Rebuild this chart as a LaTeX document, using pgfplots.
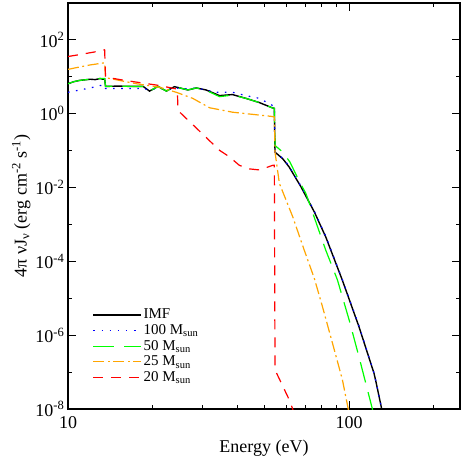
\documentclass[border=0pt]{standalone}
\usepackage{fontspec}
\setmainfont{Liberation Serif}
\usepackage{pgfplots}
\pgfplotsset{compat=1.18}

\definecolor{cgreen}{RGB}{0,255,0}
\definecolor{corange}{RGB}{255,165,0}
\definecolor{cred}{RGB}{255,0,0}
\definecolor{cblue}{RGB}{0,0,255}

\pgfplotsset{
  imfstyle/.style={black, solid, line width=1.4pt},
  bluestyle/.style={cblue, line width=1.2pt, dash pattern=on 1.6pt off 6.5pt},
  greenstyle/.style={cgreen, line width=1.2pt, dash pattern=on 21pt off 10pt},
  orangestyle/.style={corange, line width=1.2pt, dash pattern=on 11pt off 3.5pt on 2pt off 3.5pt},
  redstyle/.style={cred, line width=1.2pt, dash pattern=on 10pt off 8pt},
}

\begin{document}
\begin{tikzpicture}
\begin{axis}[
    scale only axis,
    width=392pt, height=406pt,
    xmode=log, ymode=log,
    xmin=10, xmax=248,
    ymin=1e-8, ymax=1e3,
    xtick={10,100}, xticklabels={10,100},
    minor xtick={20,30,40,50,60,70,80,90,200},
    ytick={1e-8,1e-6,1e-4,1e-2,1,1e2},
    yticklabels={10\textsuperscript{-8},10\textsuperscript{-6},10\textsuperscript{-4},10\textsuperscript{-2},10\textsuperscript{0},10\textsuperscript{2}},
    minor ytick={1e-7,1e-5,1e-3,1e-1,10,1e3},
    major tick length=8pt, minor tick length=4.5pt,
    tick style={black, line width=1pt},
    axis line style={line width=1.2pt},
    tick label style={font=\fontsize{18}{20}\selectfont},
    xticklabel style={yshift=-4pt},
    label style={font=\fontsize{18}{20}\selectfont},
    xlabel style={yshift=-4pt},
    ylabel style={yshift=-2pt},
    xlabel={Energy (eV)},
    ylabel={4π νJ\textsubscript{ν} (erg cm\textsuperscript{-2} s\textsuperscript{-1})},
    legend image code/.code={\draw[#1] plot coordinates {(0pt,0pt) (48pt,0pt)};},
    legend style={at={(0.055,0.255)}, anchor=north west, draw=none, fill=none,
        font=\fontsize{15}{16}\selectfont, row sep=1.2pt, nodes={inner sep=1.5pt},
        /tikz/every even column/.append style={column sep=7pt}},
    legend cell align=left,
]
% IMF
\addplot[imfstyle] coordinates {
 (10,6.5) (10.5,7.4) (11,8.0) (11.5,8.3) (12,8.6) (12.5,8.4) (13,9.0) (13.3,8.6) (13.5,8.8) (13.6,5.5)
 (15,5.6) (17,5.5) (18.5,5.5) (19.5,4.1) (20.9,5.5) (22.4,4.1) (23.9,5.4) (25,5.0) (26.7,4.4)
 (28.6,5.0) (31,4.4) (34.6,3.1) (38.5,3.3) (43,2.6) (48,2.0) (53.2,1.45) (54.2,1.4) (54.5,0.091)
 (58.1,0.060) (61.2,0.036) (67.4,0.0105) (75.2,2.19e-3) (82.6,4.57e-4) (94.6,3.09e-5)
 (108.4,1.70e-6) (122.6,9.3e-8) (124.5,5.6e-8) (130.6,1e-8) (132,6e-9)
};
\addlegendentry{IMF}
% 100 Msun
\addplot[bluestyle] coordinates {
 (10,3.8) (11,4.4) (12,5.0) (13,5.8) (13.5,6.0) (13.6,4.8) (15,4.8) (17,4.8) (18.5,4.9)
 (19.5,4.3) (20.9,5.0) (22.4,4.5) (23.9,5.0) (26.7,4.7) (28.6,5.0) (30,4.6) (34,3.8)
 (38.5,3.8) (43,3.1) (48,2.6) (53.5,1.66) (54.2,1.55) (54.5,0.09)
 (58.1,0.062) (61.2,0.038) (67.4,0.011) (75.2,2.3e-3) (82.6,4.8e-4) (94.6,3.2e-5)
 (108.4,1.8e-6) (122.6,9.5e-8) (124.5,5.7e-8) (130.6,1e-8) (132,6e-9)
};
\addlegendentry{100 M\textsubscript{sun}}
% 50 Msun
\addplot[greenstyle] coordinates {
 (10,6.5) (10.5,7.4) (11,8.0) (11.5,8.3) (12,8.6) (12.5,8.4) (13,9.0) (13.5,9.0) (13.6,5.5)
 (15,5.6) (17,5.5) (18.5,5.5) (19.5,4.1) (20.9,5.5) (22.4,4.1) (23.9,5.4) (25,5.0) (26.7,4.4)
 (28.6,5.0) (31,4.3) (34.6,2.9) (38.5,3.2) (43,2.6) (48,2.0) (53.2,1.45) (54.2,1.4) (54.5,0.138)
 (58.1,0.091) (61.6,0.049) (66.2,0.0158) (70.2,6.9e-3) (82.6,2.0e-4) (90.8,3.2e-5)
 (100,2.6e-6) (108.4,2.6e-7) (121,1e-8) (122,7e-9)
};
\addlegendentry{50 M\textsubscript{sun}}
% 25 Msun
\addplot[orangestyle] coordinates {
 (10,15.9) (11,18.5) (12,21) (13,23) (13.5,24) (13.6,9.5) (17.5,6.5) (21.2,5.2) (24.3,3.8)
 (27.8,2.6) (31.9,1.45) (38.5,1.1) (52.7,0.85) (54.2,0.82) (54.5,0.091) (56.5,0.0129)
 (63,1.62e-3) (69.2,2.04e-4) (75.2,3.47e-5) (80.4,5.9e-6) (87.3,6.0e-7) (94.6,6.3e-8)
 (99.3,1e-8) (100,7e-9)
};
\addlegendentry{25 M\textsubscript{sun}}
% 20 Msun
\addplot[redstyle] coordinates {
 (10,35.5) (11,40) (12,45) (13,50) (13.5,54) (13.6,9.8) (16.1,7.9) (21.2,5.8) (23.9,4.8)
 (24.5,4.7) (24.6,1.23) (34.6,0.102) (37.5,0.068) (40.7,0.040) (44.2,0.032) (48,0.030)
 (53.5,0.040) (54.2,0.04) (54.5,1.15e-7) (61.2,1.8e-8) (63,1e-8) (63.5,8e-9)
};
\addlegendentry{20 M\textsubscript{sun}}
\end{axis}
\pgfresetboundingbox
\path[use as bounding box] ([xshift=-68pt,yshift=-54pt]current axis.south west)
  rectangle ([xshift=3pt,yshift=3pt]current axis.north east);
\end{tikzpicture}
\end{document}
